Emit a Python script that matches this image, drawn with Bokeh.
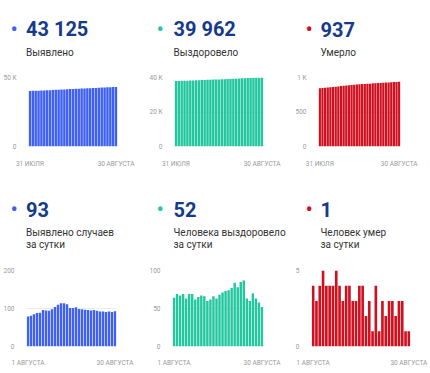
from bokeh.plotting import figure
from bokeh.layouts import column, row
from bokeh.models import Range1d, FixedTicker
from bokeh.core.properties import value
from bokeh.embed import file_html
from bokeh.resources import INLINE

# ---------------- data ----------------
# cumulative totals, 31 July .. 30 August
cum_cases = [40236, 40315, 40396, 40481, 40569, 40658, 40754, 40849, 40943, 41041,
             41145, 41255, 41369, 41483, 41594, 41695, 41796, 41899, 41998, 42096,
             42193, 42289, 42384, 42480, 42574, 42666, 42758, 42849, 42941, 43032, 43125]
cum_recovered = [37918, 37982, 38051, 38118, 38187, 38250, 38319, 38388, 38450, 38515,
                 38582, 38648, 38708, 38770, 38836, 38899, 38967, 39038, 39111, 39185,
                 39262, 39346, 39424, 39509, 39596, 39659, 39719, 39789, 39852, 39910, 39962]
cum_deaths = [843, 847, 850, 854, 859, 863, 867, 871, 876, 880,
              883, 887, 891, 894, 897, 901, 905, 907, 910, 911,
              915, 916, 919, 921, 924, 927, 929, 932, 935, 936, 937]
# daily values, 1 August .. 30 August
daily_cases = [79, 81, 85, 88, 89, 96, 95, 94, 98, 104,
               110, 114, 114, 111, 101, 101, 103, 99, 98, 97,
               96, 95, 96, 94, 92, 92, 91, 92, 91, 93]
daily_recovered = [64, 69, 67, 69, 63, 69, 69, 62, 65, 67,
                   66, 60, 62, 66, 63, 68, 71, 73, 74, 77,
                   84, 78, 85, 87, 63, 60, 70, 63, 58, 52]
daily_deaths = [4, 3, 4, 5, 4, 4, 4, 5, 4, 3,
                4, 4, 3, 3, 4, 4, 2, 3, 1, 4,
                1, 3, 2, 3, 3, 2, 3, 3, 1, 1]

top_date_labels = ["31 ИЮЛЯ", "30 АВГУСТА"]
bottom_date_labels = ["1 АВГУСТА", "30 АВГУСТА"]

top_headlines = ["43 125", "39 962", "937"]
bottom_headlines = ["93", "52", "1"]
top_titles = ["Выявлено", "Выздоровело", "Умерло"]
bottom_titles_1 = ["Выявлено случаев", "Человека выздоровело", "Человек умер"]
bottom_titles_2 = ["за сутки", "за сутки", "за сутки"]

y_ticks = [[0, 50000], [0, 20000, 40000], [0, 500, 1000],
           [0, 100, 200], [0, 50, 100], [0, 5]]
y_tick_labels = [["0", "50 K"], ["0", "20 K", "40 K"], ["0", "500", "1 K"],
                 ["0", "100", "200"], ["0", "50", "100"], ["0", "5"]]
y_max = [50000, 40000, 1000, 200, 100, 5]

# ---------------- style ----------------
BLUE = "#3f60f4"
TEAL = "#22c79f"
RED = "#d0101f"
NAVY = "#163a8a"
TEXT = "#333333"
GREY = "#9a9a9a"
FONT = "Roboto"

# (figure width, left border, right border)
COLS_TOP = [(146, 22, 29), (146, 23, 29), (138, 22, 30)]
COLS_BOTTOM = [(146, 20, 30), (146, 22, 29), (138, 19, 20)]


def chart(values, ymax, ticks, tick_labels, date_labels, color, col, height, top, bottom,
          bar_w, x_standoff):
    width, left, right = col
    n = len(values)
    p = figure(width=width, height=height,
               x_range=Range1d(-0.5, n - 0.5), y_range=Range1d(0, ymax),
               output_backend="svg", toolbar_location=None,
               min_border_left=left, min_border_right=right,
               min_border_top=top, min_border_bottom=bottom)
    p.vbar(x=list(range(n)), top=values, width=bar_w, color=color, line_color=None)
    p.outline_line_color = None
    p.xgrid.grid_line_color = None
    p.ygrid.grid_line_color = "#ebebeb"
    p.xaxis.ticker = FixedTicker(ticks=[0, n - 1])
    p.xaxis.major_label_overrides = {0: date_labels[0], n - 1: date_labels[1]}
    p.yaxis.ticker = FixedTicker(ticks=ticks)
    p.yaxis.major_label_overrides = {t: l for t, l in zip(ticks, tick_labels)}
    for ax in p.axis:
        ax.axis_line_color = None
        ax.major_tick_line_color = None
        ax.minor_tick_line_color = None
        ax.major_label_text_font = FONT
        ax.major_label_text_font_size = "6.5px"
        ax.major_label_text_color = GREY
    p.xaxis.major_label_standoff = x_standoff
    p.yaxis.major_label_standoff = 6
    return p


def text_fig(height):
    p = figure(width=430, height=height, x_range=Range1d(0, 430), y_range=Range1d(height, 0),
               output_backend="svg", toolbar_location=None, min_border=0,
               x_axis_type=None, y_axis_type=None)
    p.outline_line_color = None
    p.grid.visible = False
    return p


dot_x = [10, 156, 305]
num_x = [25.5, 173, 320]
colors = [BLUE, TEAL, RED]


def headline_block(p, y_num, y_lines, headlines, lines):
    p.text(x=dot_x, y=[y_num] * 3, text=["•"] * 3, text_font=value(FONT),
           text_font_size="22px", text_color=colors,
           text_baseline="alphabetic", text_align="left")
    p.text(x=num_x, y=[y_num] * 3, text=headlines, text_font=value(FONT),
           text_font_size="20px", text_font_style="bold", text_color=NAVY,
           text_baseline="alphabetic", text_align="left")
    for y_line, texts in zip(y_lines, lines):
        p.text(x=num_x, y=[y_line] * 3, text=texts, text_font=value(FONT),
               text_font_size="10px", text_color=TEXT,
               text_baseline="alphabetic", text_align="left")


t1 = text_fig(70)
headline_block(t1, 28.5, [52], top_headlines, [top_titles])

t2 = text_fig(92)
headline_block(t2, 38.5, [62, 74], bottom_headlines, [bottom_titles_1, bottom_titles_2])

series_top = [cum_cases, cum_recovered, cum_deaths]
series_bottom = [daily_cases, daily_recovered, daily_deaths]

row1 = [chart(series_top[i], y_max[i], y_ticks[i], y_tick_labels[i], top_date_labels,
              colors[i], COLS_TOP[i], 100, 7, 17, 0.85, 7) for i in range(3)]
row2 = [chart(series_bottom[i], y_max[3 + i], y_ticks[3 + i], y_tick_labels[3 + i],
              bottom_date_labels, colors[i], COLS_BOTTOM[i], 111, 8, 27, 0.8, 6)
        for i in range(3)]

layout = column(t1, row(*row1), t2, row(*row2))

open("out.html", "w").write(file_html(layout, INLINE))
